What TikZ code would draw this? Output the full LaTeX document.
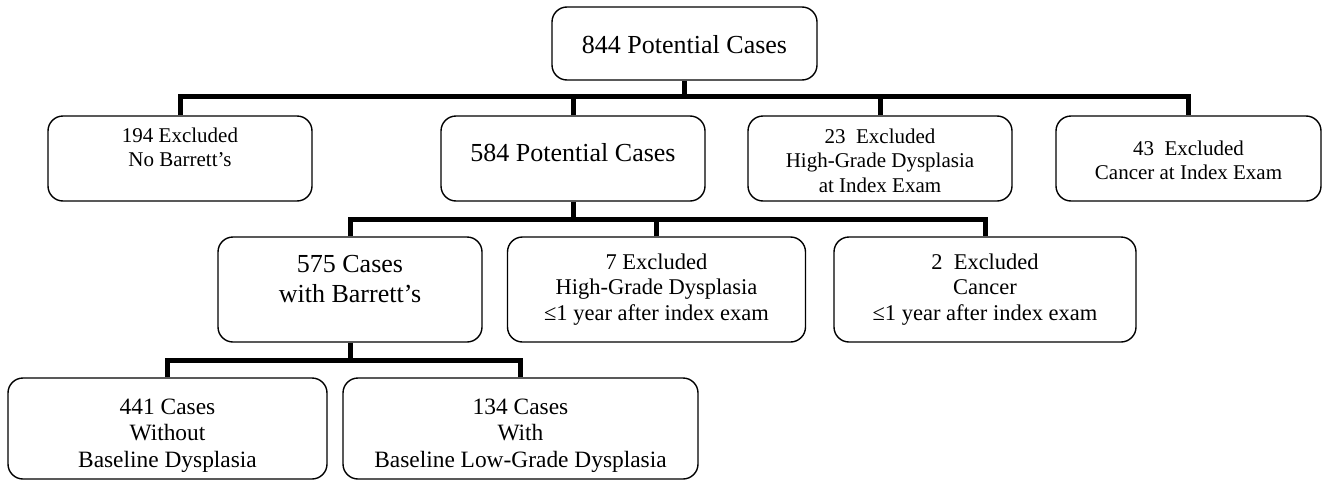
\documentclass[tikz,border=0pt]{standalone}
\usepackage{fontspec}
\setmainfont{Liberation Serif}
\begin{document}
\begin{tikzpicture}[x=1pt,y=-1pt,
  box/.style={draw,line width=1.4pt,rounded corners=15pt,inner sep=0pt},
  conn/.style={line width=5pt},
  txt/.style={inner sep=0pt,align=center},
  fbig/.style={font=\fontsize{26}{30}\selectfont},
  fsmall/.style={font=\fontsize{21}{24.5}\selectfont},
  fmid/.style={font=\fontsize{22.5}{25.5}\selectfont},
  flow/.style={font=\fontsize{23.4}{26.7}\selectfont}]
\path[fill=white,use as bounding box] (0,0) rectangle (1325,482);

% row 1
\node[box,minimum width=265pt,minimum height=73pt] (n844) at (684.5,43.5) {};
\node[txt,fbig] (t844) at (684.5,47) {\strut 844 Potential Cases\strut};

% row 2
\node[box,minimum width=264pt,minimum height=85pt] (n194) at (180,158.5) {};
\node[txt,fsmall] (t194) at (180,149.4) {\strut 194 Excluded\strut\\\strut No Barrett’s\strut};

\node[box,minimum width=264pt,minimum height=85pt] (n584) at (573,158.5) {};
\node[txt,fbig] (t584) at (573,155) {\strut 584 Potential Cases\strut};

\node[box,minimum width=264pt,minimum height=85pt] (n23) at (880,158.5) {};
\node[txt,fsmall] (t23) at (880,162.6) {\strut 23\ \ Excluded\strut\\\strut High-Grade Dysplasia\strut\\\strut at Index Exam\strut};

\node[box,minimum width=265pt,minimum height=85pt] (n43) at (1188.5,158.5) {};
\node[txt,fsmall] (t43) at (1188.5,162.4) {\strut 43\ \ Excluded\strut\\\strut Cancer at Index Exam\strut};

% row 3
\node[box,minimum width=264pt,minimum height=105pt] (n575) at (350,289.5) {};
\node[txt,fbig] (t575) at (350,281) {\strut 575 Cases\strut\\\strut with Barrett’s\strut};

\node[box,minimum width=298pt,minimum height=105pt] (n7) at (656.5,289.5) {};
\node[txt,fmid] (t7) at (656.5,289.4) {\strut 7 Excluded\strut\\\strut High-Grade Dysplasia\strut\\\strut ≤1 year after index exam\strut};

\node[box,minimum width=302pt,minimum height=105pt] (n2) at (985,289.5) {};
\node[txt,fmid] (t2) at (985,289.4) {\strut 2\ \ Excluded\strut\\\strut Cancer\strut\\\strut ≤1 year after index exam\strut};

% row 4
\node[box,minimum width=319pt,minimum height=101pt] (n441) at (167.5,428.5) {};
\node[txt,flow] (t441) at (167.5,435.4) {\strut 441 Cases\strut\\\strut Without\strut\\\strut Baseline Dysplasia\strut};

\node[box,minimum width=355pt,minimum height=101pt] (n134) at (520.5,428.5) {};
\node[txt,flow] (t134) at (520.5,435.4) {\strut 134 Cases\strut\\\strut With\strut\\\strut Baseline Low-Grade Dysplasia\strut};

% connectors
\coordinate (j1) at (684.5,97);
\coordinate (j2) at (573,220);
\coordinate (j3) at (350,361);

\draw[conn] (n844.south) -- (j1);
\draw[conn] (n194.north) -- ++(0,-19) -| (n43.north);
\draw[conn] (n584.north) -- (n584.north |- j1);
\draw[conn] (n23.north) -- (n23.north |- j1);

\draw[conn] (n584.south) -- (j2);
\draw[conn] (n575.north) -- ++(0,-17) -| (n2.north);
\draw[conn] (n7.north) -- (n7.north |- j2);

\draw[conn] (n575.south) -- (j3);
\draw[conn] (n441.north) -- ++(0,-17) -| (n134.north);
\end{tikzpicture}
\end{document}
